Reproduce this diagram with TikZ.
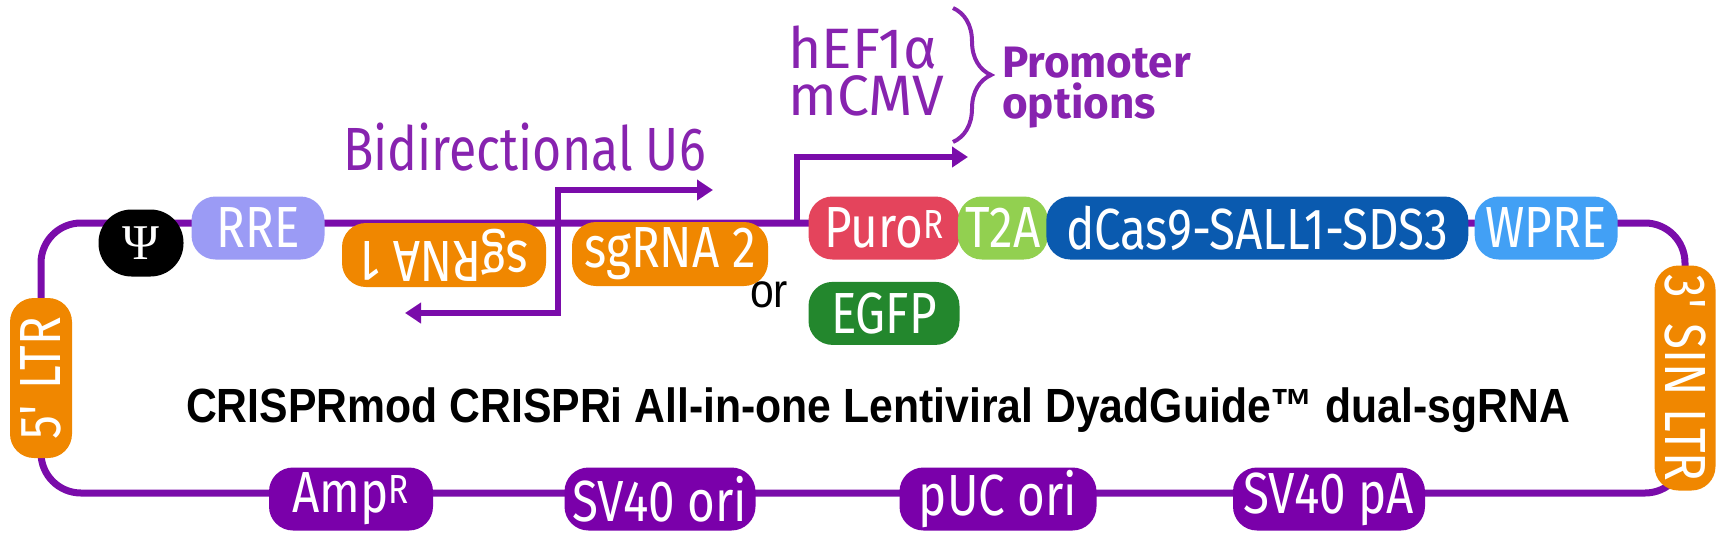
\documentclass[tikz,border=0pt]{standalone}
\usepackage{fontspec}
\setmainfont{Fira Sans}[FakeStretch=0.82]
\newfontfamily\optfont{Fira Sans}
\newfontfamily\arialfont[FakeStretch=0.89]{Liberation Sans}
\newfontfamily\psifont{Liberation Serif}
\usetikzlibrary{positioning,arrows.meta,backgrounds,decorations.pathreplacing}

\definecolor{backbone}{RGB}{122,12,170}
\definecolor{labelpurple}{RGB}{135,35,175}
\definecolor{ori}{RGB}{122,0,170}
\definecolor{ltr}{RGB}{240,135,0}
\definecolor{sgrna}{RGB}{240,135,0}
\definecolor{rre}{RGB}{155,155,245}
\definecolor{puro}{RGB}{228,68,92}
\definecolor{t2a}{RGB}{146,208,80}
\definecolor{dcas}{RGB}{10,90,175}
\definecolor{wpre}{RGB}{66,160,245}
\definecolor{egfp}{RGB}{35,135,45}

\tikzset{
  feature/.style={rounded corners=24pt, minimum height=63pt, inner sep=0pt, text=white,
    font=\fontsize{58}{58}\selectfont},
  backbone line/.style={line width=7pt, draw=backbone},
  promoter/.style={line width=6pt, draw=backbone, ->},
  u6label/.style={inner sep=0pt, text=labelpurple, font=\fontsize{61}{61}\selectfont},
  choicelabel/.style={inner sep=0pt, text=labelpurple, align=left, font=\optfont\fontsize{57}{47}\selectfont},
  optlabel/.style={inner sep=0pt, text=labelpurple, font=\optfont\fontsize{44}{44}\selectfont\bfseries},
  orlabel/.style={inner sep=0pt, font=\arialfont\fontsize{48}{48}\selectfont},
  titlelabel/.style={inner sep=0pt, font=\arialfont\fontsize{48}{48}\selectfont\bfseries},
}

\begin{document}
\begin{tikzpicture}[x=1pt, y=-1pt, >={Triangle[length=16pt,width=20pt]}]
  \useasboundingbox (0,0) rectangle (1719,539);

  % top row of the vector
  \node[feature, fill=ltr, minimum width=62pt, minimum height=160pt] (ltr5) at (41,378) {\rotatebox{90}{5\textquotesingle\ LTR}};
  \node[feature, fill=black, minimum width=85pt, minimum height=67pt, rounded corners=33pt] (psi) at (141,243) {\psifont\fontsize{50}{50}\selectfont Ψ};
  \node[feature, fill=rre, minimum width=133pt] (rre) at (258,228) {RRE};
  \node[feature, fill=sgrna, minimum width=204pt, minimum height=64pt] (sg1) at (444,255) {\rotatebox{180}{sgRNA 1}};
  \node[feature, fill=sgrna, minimum width=196pt, minimum height=64pt] (sg2) at (670,254) {sgRNA 2};
  \node[feature, fill=puro, minimum width=151pt] (puro) at (884,228) {Puro\textsuperscript{R}};
  \node[feature, fill=t2a, minimum width=90pt, right=-2pt of puro] (t2a) {T2A};
  \node[feature, fill=dcas, minimum width=422pt, right=-2pt of t2a] (dcas) {dCas9-SALL1-SDS3};
  \node[feature, fill=wpre, minimum width=143pt, right=6pt of dcas] (wpre) {WPRE};
  \node[feature, fill=egfp, minimum width=151pt, below=22pt of puro] (egfp) {EGFP};
  \node[feature, fill=ltr, minimum width=61pt, minimum height=225pt] (ltr3) at (1685,378) {\rotatebox{-90}{3\textquotesingle\ SIN LTR}};

  % bottom row
  \node[feature, fill=ori, minimum width=164pt] (amp) at (351,499) {Amp\textsuperscript{R}};
  \node[feature, fill=ori, minimum width=191pt] (sv40ori) at (660,499) {SV40 ori};
  \node[feature, fill=ori, minimum width=197pt] (puc) at (998,499) {pUC ori};
  \node[feature, fill=ori, minimum width=192pt] (sv40pa) at (1329,499) {SV40 pA};

  % backbone behind the parts
  \coordinate (tr) at (1685,223);
  \coordinate (br) at (1685,493);
  \begin{scope}[on background layer]
    \draw[backbone line, rounded corners=40pt] (ltr5.center) |- (tr) -- (ltr3.center);
    \draw[backbone line, rounded corners=40pt] (ltr5.center) |- (br) -- (ltr3.center);
  \end{scope}

  % bidirectional U6
  \coordinate (u6mid) at (558,250);
  \coordinate (u6up) at (713,190);
  \coordinate (u6down) at (405,313);
  \draw[promoter, <->] (u6down) -| (u6mid) |- (u6up);
  \node[u6label, anchor=base west] (u6lbl) at (343,170) {Bidirectional U6};

  % promoter options
  \coordinate (pstart) at (797,223);
  \coordinate (pend) at (968,157);
  \draw[promoter] (pstart) |- (pend);
  \node[choicelabel, anchor=base west] (choice) at (788,115) {hEF1α\\mCMV};
  \coordinate (btop) at (953,8);
  \coordinate (bbot) at (953,142);
  \draw[labelpurple, line width=4pt, decorate, decoration={brace, amplitude=38pt}] (btop) -- (bbot);
  \node[optlabel, anchor=base west] (prom) at (1002,77) {Promoter};
  \node[optlabel, anchor=base west] (opt) at (1002,118) {options};

  \node[orlabel, anchor=base west] (or) at (750,307) {or};
  \node[titlelabel, anchor=base] (title) at (878,422) {CRISPRmod CRISPRi All-in-one Lentiviral DyadGuide™ dual-sgRNA};
\end{tikzpicture}
\end{document}
